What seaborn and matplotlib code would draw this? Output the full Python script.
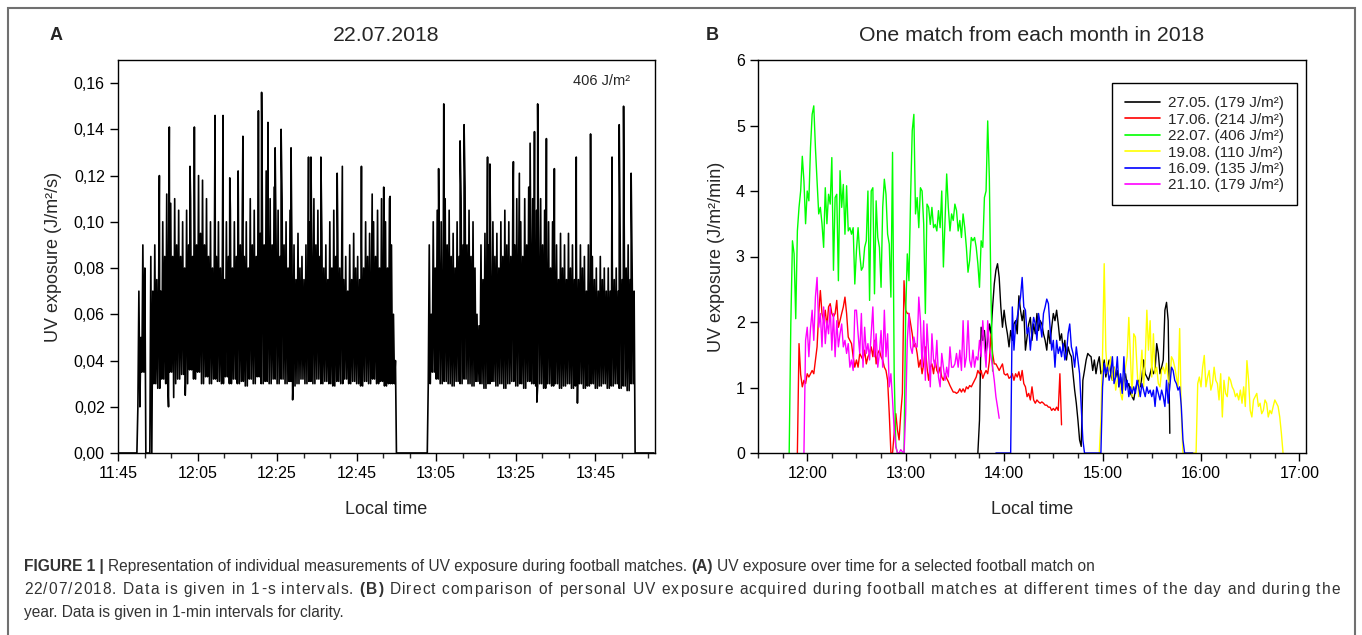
import numpy as np
import pandas as pd
import seaborn as sns
import matplotlib.pyplot as plt
from matplotlib.ticker import FixedLocator, FuncFormatter, MultipleLocator
from matplotlib.lines import Line2D
from matplotlib.patches import Rectangle
from matplotlib.font_manager import FontProperties

# ---------------- panel A: 22.07.2018 (read per minute after 11:45) ----------------
a_start = "11:45"
# highest excursion in each minute
a_top = [
    0, 0, 0, 0, 0, 0.07, 0.09, 0.0, 0.085, 0.09,
    0.08, 0.10, 0.112, 0.108, 0.11, 0.105, 0.10, 0.105, 0.11, 0.115,
    0.12, 0.118, 0.11, 0.10, 0.095, 0.10, 0.09, 0.10, 0.105, 0.10,
    0.11, 0.105, 0.10, 0.11, 0.105, 0.12, 0.118, 0.122, 0.11, 0.115,
    0.105, 0.11, 0.10, 0.105, 0.09, 0.095, 0.085, 0.09, 0.10, 0.11,
    0.105, 0.095, 0.09, 0.10, 0.105, 0.095, 0.09, 0.085, 0.09, 0.095,
    0.085, 0.09, 0.10, 0.095, 0.10, 0.105, 0.11, 0.10, 0.11, 0.06,
    0, 0, 0, 0, 0, 0, 0, 0, 0.09, 0.10,
    0.105, 0.10, 0.11, 0.105, 0.095, 0.10, 0.11, 0.115, 0.105, 0.10,
    0.06, 0.09, 0.095, 0.09, 0.10, 0.095, 0.10, 0.105, 0.10, 0.105,
    0.11, 0.10, 0.11, 0.115, 0.11, 0.105, 0.11, 0.105, 0.10, 0.10,
    0.09, 0.095, 0.09, 0.095, 0.09, 0.085, 0.09, 0.085, 0.09, 0.085,
    0.08, 0.085, 0.08, 0.08, 0.085, 0.08, 0.09, 0.10, 0.09, 0.08,
    0, 0, 0, 0, 0,
]
# top of the solid black band in each minute
a_mid = [
    0, 0, 0, 0, 0, 0.05, 0.08, 0.0, 0.07, 0.075,
    0.07, 0.085, 0.09, 0.085, 0.09, 0.085, 0.08, 0.09, 0.085, 0.09,
    0.095, 0.09, 0.085, 0.08, 0.085, 0.08, 0.075, 0.085, 0.08, 0.085,
    0.09, 0.085, 0.08, 0.09, 0.085, 0.095, 0.09, 0.10, 0.09, 0.09,
    0.085, 0.09, 0.08, 0.085, 0.075, 0.08, 0.075, 0.08, 0.085, 0.09,
    0.085, 0.08, 0.075, 0.08, 0.085, 0.08, 0.075, 0.07, 0.075, 0.08,
    0.075, 0.08, 0.085, 0.08, 0.085, 0.08, 0.085, 0.08, 0.09, 0.04,
    0, 0, 0, 0, 0, 0, 0, 0, 0.06, 0.08,
    0.085, 0.08, 0.09, 0.085, 0.08, 0.085, 0.09, 0.09, 0.085, 0.08,
    0.055, 0.075, 0.08, 0.075, 0.085, 0.08, 0.085, 0.09, 0.085, 0.09,
    0.09, 0.085, 0.09, 0.095, 0.09, 0.085, 0.09, 0.085, 0.08, 0.085,
    0.075, 0.08, 0.075, 0.08, 0.075, 0.075, 0.08, 0.07, 0.075, 0.075,
    0.07, 0.075, 0.07, 0.07, 0.075, 0.07, 0.075, 0.08, 0.075, 0.07,
    0, 0, 0, 0, 0,
]
# lower edge of the band in each minute
a_bottom = [
    0, 0, 0, 0, 0, 0.02, 0.035, 0.0, 0.0, 0.03,
    0.028, 0.032, 0.03, 0.035, 0.03, 0.032, 0.034, 0.03, 0.036, 0.032,
    0.035, 0.03, 0.033, 0.03, 0.032, 0.031, 0.03, 0.033, 0.03, 0.032,
    0.03, 0.031, 0.029, 0.032, 0.03, 0.033, 0.03, 0.031, 0.03, 0.032,
    0.03, 0.032, 0.03, 0.031, 0.029, 0.03, 0.032, 0.03, 0.031, 0.03,
    0.032, 0.03, 0.031, 0.03, 0.029, 0.031, 0.03, 0.032, 0.03, 0.031,
    0.03, 0.029, 0.031, 0.03, 0.032, 0.03, 0.031, 0.029, 0.03, 0.03,
    0, 0, 0, 0, 0, 0, 0, 0, 0.03, 0.035,
    0.032, 0.03, 0.031, 0.03, 0.029, 0.031, 0.03, 0.032, 0.03, 0.029,
    0.031, 0.03, 0.028, 0.03, 0.031, 0.029, 0.03, 0.028, 0.03, 0.031,
    0.029, 0.03, 0.028, 0.031, 0.03, 0.029, 0.03, 0.028, 0.03, 0.029,
    0.03, 0.028, 0.029, 0.03, 0.028, 0.029, 0.03, 0.028, 0.029, 0.03,
    0.028, 0.029, 0.03, 0.028, 0.029, 0.03, 0.028, 0.029, 0.027, 0.03,
    0, 0, 0, 0, 0,
]
# single-second peaks and dips (minute after 11:45, value)
a_peak_min = [10.4, 12.9, 18.1, 19.2, 24.4, 26.4, 28.1, 30.2, 31.4, 35.3, 36.1, 37.7,
              39.5, 41.0, 43.5, 47.9, 48.5, 51.0, 55.1, 56.4, 61.2, 63.9, 66.8, 68.4,
              80.6, 81.9, 86.0, 87.0, 92.9, 93.5, 99.4, 100.9, 103.6, 104.7, 105.5,
              107.7, 109.7, 115.2, 118.8, 124.2, 126.0, 127.1, 129.0]
a_peak_val = [0.120, 0.141, 0.124, 0.141, 0.146, 0.146, 0.119, 0.122, 0.137, 0.148, 0.156, 0.143,
              0.132, 0.140, 0.132, 0.128, 0.128, 0.128, 0.121, 0.124, 0.124, 0.112, 0.115, 0.111,
              0.123, 0.151, 0.135, 0.142, 0.128, 0.125, 0.126, 0.121, 0.134, 0.139, 0.151,
              0.136, 0.123, 0.128, 0.138, 0.128, 0.142, 0.150, 0.121]
a_dip_min = [12.7, 14.0, 16.9, 43.9, 105.3, 115.5]
a_dip_val = [0.020, 0.024, 0.025, 0.023, 0.022, 0.0216]
a_total = "406 J/m²"

# ---------------- panel B: one match per month, 1-min values ----------------
b_labels = ["27.05. (179 J/m²)", "17.06. (214 J/m²)", "22.07. (406 J/m²)",
            "19.08. (110 J/m²)", "16.09. (135 J/m²)", "21.10. (179 J/m²)"]
b_colors = ["black", "#ff0000", "#00ff00", "#ffff00", "#0000ff", "#ff00ff"]
b_start = ["13:44", "11:54", "11:49", "14:58", "13:55", "11:58"]

b_may = [
    0.0, 0.5, 1.92, 1.72, 1.87, 1.52, 1.72, 1.97, 1.82, 2.23,
    2.58, 2.79, 2.89, 2.68, 2.23, 1.92, 2.18, 1.97, 1.82, 1.62,
    1.87, 1.72, 1.97, 2.02, 1.82, 2.40, 2.18, 2.02, 2.18, 1.57,
    1.77, 1.97, 2.07, 1.72, 1.97, 1.82, 2.13, 1.87, 2.02, 1.97,
    1.82, 1.72, 1.57, 1.87, 1.67, 1.92, 2.13, 2.02, 2.18, 1.97,
    1.72, 1.82, 1.57, 1.72, 1.42, 1.62, 1.52, 1.47, 1.21, 0.96,
    0.76, 0.50, 0.20, 0.10, 1.11, 1.26, 1.42, 1.52, 1.49, 1.47,
    1.26, 1.42, 1.21, 1.37, 1.47, 1.21, 1.26, 1.42, 1.16, 1.31,
    1.42, 1.21, 1.11, 1.31, 1.16, 1.26, 1.01, 1.16, 0.96, 1.11,
    1.21, 1.01, 1.06, 0.91, 0.86, 0.81, 0.96, 1.06, 1.11, 1.01,
    1.16, 1.42, 1.21, 1.16, 1.11, 1.21, 1.31, 1.21, 1.26, 1.67,
    1.52, 1.21, 1.31, 1.42, 2.18, 2.30, 2.02, 0.30,
]
b_jun = [
    0.0, 1.67, 1.20, 1.01, 1.11, 1.06, 1.21, 1.16, 1.21, 1.26,
    1.21, 1.42, 1.62, 2.13, 2.48, 2.13, 2.02, 2.18, 1.92, 2.23,
    2.28, 2.13, 2.08, 2.13, 2.33, 1.92, 2.02, 2.13, 2.23, 2.38,
    2.13, 1.77, 1.72, 1.67, 1.47, 1.31, 1.42, 1.31, 1.52, 1.47,
    1.42, 1.57, 1.36, 1.47, 1.52, 1.62, 1.47, 1.72, 1.36, 1.52,
    1.57, 1.47, 1.42, 1.31, 1.26, 1.11, 0.60, 0.0, 0.0, 0.30,
    0.60, 0.35, 0.20, 0.60, 0.91, 2.63, 2.18, 2.13, 2.13, 1.97,
    1.82, 1.62, 1.67, 1.52, 1.31, 1.42, 1.21, 1.36, 1.62, 1.31,
    1.11, 1.31, 1.36, 1.21, 1.42, 1.26, 1.21, 1.31, 1.16, 1.11,
    1.21, 1.14, 1.09, 1.03, 0.98, 0.93, 0.93, 0.91, 0.93, 0.98,
    0.93, 0.98, 0.93, 1.01, 0.98, 1.03, 1.01, 1.06, 1.11, 1.16,
    1.26, 1.21, 1.26, 1.14, 1.21, 1.26, 1.21, 1.40, 1.82, 1.52,
    1.36, 1.36, 1.31, 1.26, 1.31, 1.36, 1.21, 1.19, 1.21, 1.14,
    1.16, 1.21, 1.11, 1.21, 1.16, 1.24, 1.11, 1.26, 1.06, 1.01,
    0.86, 0.91, 0.81, 1.01, 0.81, 0.76, 0.81, 0.78, 0.76, 0.78,
    0.76, 0.73, 0.73, 0.70, 0.70, 0.65, 0.68, 0.65, 0.70, 0.65,
    1.21, 0.43,
]
b_jul = [
    0.0, 1.97, 3.24, 3.04, 2.05, 3.39, 3.75, 4.00, 4.53, 4.15,
    3.50, 4.00, 3.85, 4.66, 5.17, 5.30, 4.66, 4.15, 3.65, 3.75,
    3.50, 3.14, 4.05, 3.50, 3.95, 3.80, 4.51, 2.79, 3.90, 3.95,
    2.63, 4.31, 3.75, 4.10, 3.34, 4.08, 3.39, 3.44, 3.34, 3.44,
    2.58, 3.09, 3.44, 3.04, 2.79, 2.84, 3.14, 3.24, 4.00, 2.33,
    4.00, 4.05, 2.43, 3.85, 3.29, 3.14, 2.53, 3.75, 4.18, 3.95,
    3.34, 3.19, 2.38, 4.59, 1.21, 0.10, 0.0, 0.0, 0.0, 0.0,
    0.0, 2.13, 3.04, 2.63, 3.90, 4.92, 5.17, 3.65, 3.90, 3.44,
    4.05, 4.00, 3.49, 2.13, 3.80, 3.75, 3.49, 3.75, 3.44, 3.49,
    3.39, 3.70, 3.44, 4.00, 2.84, 3.55, 4.26, 3.75, 3.39, 3.65,
    3.55, 3.80, 3.70, 3.39, 3.55, 3.29, 3.65, 3.44, 3.14, 2.76,
    2.94, 3.29, 3.24, 3.29, 3.14, 2.89, 2.53, 3.24, 3.14, 3.90,
    4.00, 5.07, 4.20, 2.40, 1.25,
]
b_aug = [
    0.0, 0.5, 1.5, 2.89, 1.57, 1.21, 1.31, 1.47, 1.11, 1.31,
    0.96, 1.11, 1.21, 0.91, 0.81, 1.11, 1.31, 1.47, 2.07, 1.47,
    0.86, 1.82, 1.77, 1.31, 0.86, 1.21, 1.57, 1.01, 1.42, 2.18,
    1.57, 2.02, 1.16, 1.82, 1.21, 1.31, 1.06, 1.01, 1.26, 1.31,
    1.21, 1.37, 1.11, 1.06, 1.47, 1.42, 1.31, 1.16, 1.01, 1.90,
    0.60, 0, 0, 0, 0, 0, 0, 0, 0, 0,
    1.06, 1.16, 1.01, 1.31, 1.49, 1.01, 1.16, 1.26, 0.96, 1.06,
    1.31, 1.11, 1.06, 0.81, 1.21, 0.55, 1.11, 0.91, 0.86, 1.16,
    1.11, 1.01, 0.96, 0.86, 0.91, 0.81, 0.96, 0.76, 1.01, 0.71,
    1.41, 1.11, 0.65, 0.55, 0.81, 0.86, 0.91, 0.71, 0.76, 0.60,
    0.65, 0.81, 0.76, 0.55, 0.65, 0.60, 0.71, 0.81, 0.76, 0.71,
    0.55, 0.30, 0.0,
]
b_sep = [
    0, 0, 0, 0, 0, 0, 0, 0, 0, 0,
    2.23, 1.57, 1.97, 2.07, 2.23, 2.38, 2.68, 2.23, 2.18, 1.82,
    1.92, 1.57, 1.87, 2.07, 1.97, 1.72, 2.13, 1.97, 1.77, 2.13,
    2.23, 2.35, 2.28, 1.92, 1.57, 1.72, 1.31, 1.72, 1.52, 1.62,
    1.47, 1.67, 1.42, 1.52, 1.82, 1.97, 1.62, 1.52, 1.31, 1.62,
    1.42, 1.21, 0.71, 0.20, 0, 0, 0, 0, 0, 0,
    0, 0, 0, 0, 0, 1.01, 1.37, 1.21, 1.31, 1.11,
    1.21, 1.47, 1.06, 1.16, 1.47, 1.01, 1.21, 0.91, 1.47, 0.96,
    1.11, 0.86, 1.01, 0.91, 1.01, 0.91, 1.11, 1.01, 0.86, 1.06,
    0.96, 0.86, 1.01, 0.91, 0.96, 0.86, 0.96, 0.71, 1.01, 0.91,
    0.81, 0.96, 0.86, 0.71, 1.11, 0.76, 1.01, 1.31, 1.26, 1.11,
    1.06, 0.96, 1.01, 0.71, 0.20, 0, 0, 0, 0, 0,
    0,
]
b_oct = [
    0.0, 1.72, 1.92, 1.47, 1.90, 2.18, 1.72, 2.38, 2.68, 1.92,
    2.13, 1.62, 2.23, 1.67, 2.02, 1.82, 2.23, 1.57, 2.13, 1.47,
    2.02, 1.62, 1.82, 1.97, 1.62, 1.72, 1.52, 1.67, 1.31, 1.42,
    1.26, 2.18, 2.18, 1.82, 1.52, 2.13, 1.31, 1.92, 1.52, 1.67,
    1.42, 1.82, 2.23, 1.47, 1.82, 1.31, 1.52, 1.87, 1.31, 2.18,
    1.47, 1.82, 1.01, 1.21, 0.81, 0.35, 0.10, 0.0, 0.0, 0.05,
    0.02, 0.0, 0.60, 1.72, 2.13, 1.62, 1.52, 1.77, 1.62, 1.62,
    2.38, 2.02, 1.31, 2.02, 1.11, 1.97, 1.52, 1.01, 1.82, 1.42,
    1.31, 1.72, 1.16, 1.01, 1.52, 1.31, 1.11, 1.31, 1.16, 1.62,
    1.31, 1.31, 1.36, 1.52, 1.31, 1.57, 1.26, 2.02, 1.31, 1.47,
    2.02, 1.42, 1.31, 1.57, 1.31, 1.47, 1.42, 1.72, 1.47, 2.02,
    1.62, 1.31, 2.02, 1.62, 1.47, 1.31, 1.11, 0.86, 0.70, 0.53,
]
b_values = [b_may, b_jun, b_jul, b_aug, b_sep, b_oct]

# caption lines as (text, weight) pieces; the second line is set full width
caption = [
    [("FIGURE 1 |", "bold"),
     ("Representation of individual measurements of UV exposure during football matches.", "normal"),
     ("(A)", "bold"),
     ("UV exposure over time for a selected football match on", "normal")],
    [("22/07/2018. Data is given in 1-s intervals.", "normal"),
     ("(B)", "bold"),
     ("Direct comparison of personal UV exposure acquired during football matches at "
      "different times of the day and during the", "normal")],
    [("year. Data is given in 1-min intervals for clarity.", "normal")],
]
caption_full = [False, True, False]


def to_min(hhmm):
    h, m = hhmm.split(":")
    return int(h) * 60 + int(m)


def fmt_time(v, _pos):
    v = int(round(v))
    return f"{v // 60}:{v % 60:02d}"


# ---- build tables ----
t0 = to_min(a_start)
a_t, a_v = [], []
for i, (lo, hi, mid) in enumerate(zip(a_bottom, a_top, a_mid)):
    a_t += [t0 + i, t0 + i + 0.25, t0 + i + 0.5, t0 + i + 0.75]
    a_v += [lo, hi, lo, mid]
a_t += [t0 + m for m in a_peak_min + a_dip_min]
a_v += a_peak_val + a_dip_val
df_a = pd.DataFrame({"time": a_t, "uv": a_v}).sort_values("time", kind="stable")

parts = []
for label, start, vals in zip(b_labels, b_start, b_values):
    parts.append(pd.DataFrame({"time": to_min(start) + np.arange(len(vals)),
                               "uv": vals, "match": label}))
df_b = pd.concat(parts, ignore_index=True)

# ---- style ----
sns.set_style("ticks")
plt.rcParams["font.family"] = ["Liberation Sans", "DejaVu Sans"]

W, H = 1362, 635
fig = plt.figure(figsize=(W / 100, H / 100), dpi=100)
fig.patch.set_facecolor("white")

ax_a = fig.add_axes([118 / W, (H - 453) / H, 537 / W, 393 / H])
ax_b = fig.add_axes([758 / W, (H - 453) / H, 548 / W, 393 / H])

sns.lineplot(data=df_a, x="time", y="uv", color="black", lw=1.2,
             estimator=None, sort=False, ax=ax_a)
sns.lineplot(data=df_b, x="time", y="uv", hue="match", hue_order=b_labels,
             palette=dict(zip(b_labels, b_colors)), lw=1.0,
             estimator=None, ax=ax_b, legend=False)

for ax in (ax_a, ax_b):
    for side in ("left", "right", "top", "bottom"):
        ax.spines[side].set_visible(True)
        ax.spines[side].set_color("black")
        ax.spines[side].set_linewidth(1.0)
    ax.tick_params(which="major", direction="out", length=6, width=1, labelsize=11.5,
                   colors="black")
    ax.tick_params(which="minor", direction="out", length=3.5, width=1)
    ax.xaxis.set_major_formatter(FuncFormatter(fmt_time))
    ax.set_xlabel("Local time", fontsize=13)
    ax.xaxis.set_label_coords(0.5, -0.122)

# panel A axes
ax_a.set_xlim(t0, t0 + 135)
ax_a.set_ylim(0, 0.17)
ax_a.xaxis.set_major_locator(FixedLocator(np.arange(t0, t0 + 121, 20)))
ax_a.xaxis.set_minor_locator(FixedLocator(np.arange(t0, t0 + 135.1, 20 / 3)))
ax_a.yaxis.set_major_locator(FixedLocator(np.arange(0, 0.161, 0.02)))
ax_a.yaxis.set_major_formatter(FuncFormatter(lambda v, _: f"{v:.2f}".replace(".", ",")))
ax_a.set_ylabel("UV exposure (J/m²/s)", fontsize=13)
ax_a.yaxis.set_label_coords(-0.104, 0.5)
ax_a.text(0.5, (453 - 36) / 393, "22.07.2018", transform=ax_a.transAxes,
          ha="center", va="center", fontsize=15.3)
ax_a.text(0.954, 0.947, a_total, transform=ax_a.transAxes, ha="right", va="center",
          fontsize=10.5)

# panel B axes
ax_b.set_xlim(to_min("11:30"), to_min("17:04"))
ax_b.set_ylim(0, 6)
ax_b.xaxis.set_major_locator(MultipleLocator(60))
ax_b.xaxis.set_minor_locator(MultipleLocator(15))
ax_b.yaxis.set_major_locator(MultipleLocator(1))
ax_b.set_ylabel("UV exposure (J/m²/min)", fontsize=13)
ax_b.yaxis.set_label_coords(-0.06, 0.5)
ax_b.text(0.5, (453 - 36) / 393, "One match from each month in 2018",
          transform=ax_b.transAxes, ha="center", va="center", fontsize=15.3)

handles = [Line2D([0], [0], color=c, lw=1.2) for c in b_colors]
leg = ax_b.legend(handles, b_labels, loc="upper right", bbox_to_anchor=(0.984, 0.941),
                  frameon=True, fancybox=False, framealpha=1, edgecolor="black",
                  fontsize=11, handlelength=2.3, handletextpad=0.5,
                  labelspacing=0.16, borderpad=0.85, borderaxespad=0)
leg.get_frame().set_linewidth(1.0)

# panel letters
fig.text(56 / W, 1 - 35 / H, "A", fontsize=13, fontweight="bold", ha="center", va="center")
fig.text(712 / W, 1 - 35 / H, "B", fontsize=13, fontweight="bold", ha="center", va="center")

# caption
renderer = fig.canvas.get_renderer()
cap_size = 11.2
_adv_cache = {}


def text_w(s, weight):
    fp = FontProperties(family="Liberation Sans", size=cap_size, weight=weight)
    return renderer.get_text_width_height_descent(s, fp, ismath=False)[0]


def advance(ch, weight):
    # pen advance of one character, measured between two reference glyphs
    key = (ch, weight)
    if key not in _adv_cache:
        _adv_cache[key] = text_w("H" + ch + "H", weight) - text_w("HH", weight)
    return _adv_cache[key]


cap_kw = dict(fontsize=cap_size, color="#333333", ha="left", va="baseline")
for i, (pieces, full) in enumerate(zip(caption, caption_full)):
    y = 1 - (571 + 23 * i) / H
    chars = []
    for j, (s, wt) in enumerate(pieces):
        if j:
            chars.append((" ", "normal", None))
        for k, ch in enumerate(s):
            chars.append((ch, wt, (j, k)))
    adv = [advance(ch, wt) for ch, wt, _ in chars]
    extra = (1340 - 24 - sum(adv)) / (len(chars) - 1) if full else 0.0
    pen = 24.0
    for (ch, wt, where), a in zip(chars, adv):
        if full:
            if ch != " ":
                fig.text(pen / W, y, ch, fontweight=wt, **cap_kw)
        elif where is not None and where[1] == 0:
            fig.text(pen / W, y, pieces[where[0]][0], fontweight=wt, **cap_kw)
        pen += a + extra

fig.patches.append(Rectangle((8 / W, -0.05), (1355 - 8) / W, 1 - 8 / H + 0.05,
                             transform=fig.transFigure, fill=False,
                             edgecolor="#707070", lw=1.5))

fig.savefig("out.png", dpi=100)
